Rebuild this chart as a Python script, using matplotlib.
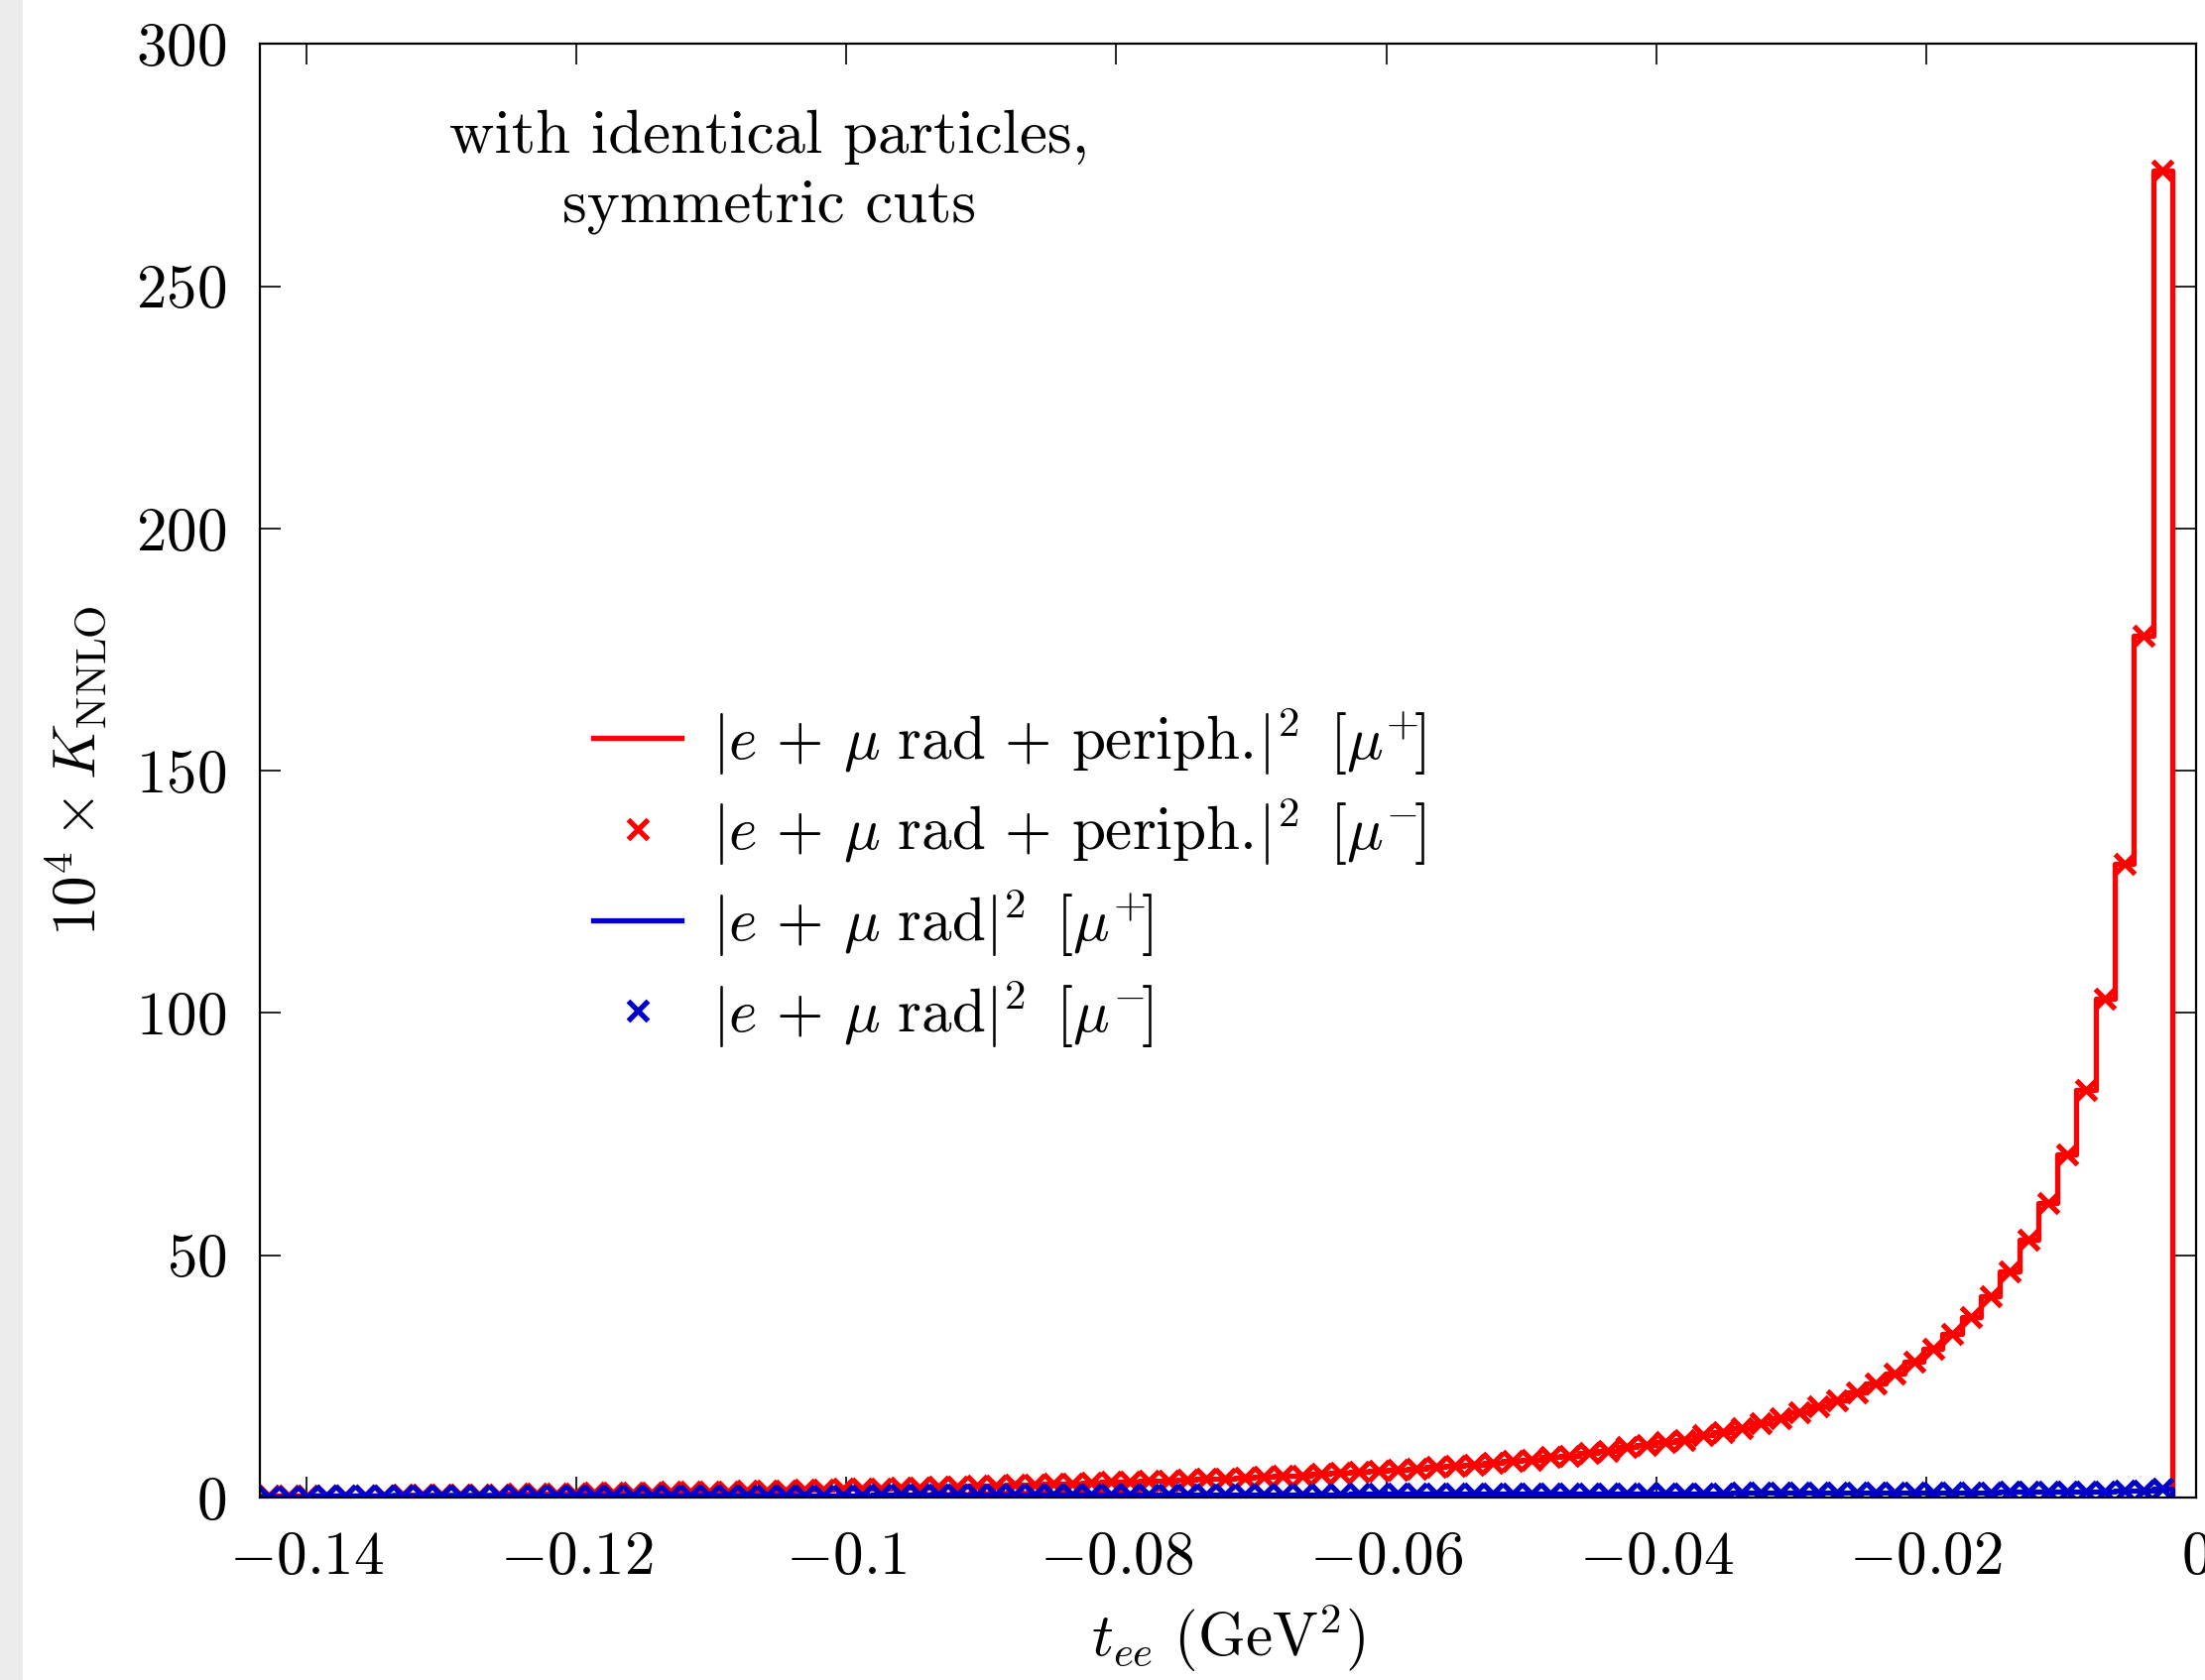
import numpy as np
import matplotlib
matplotlib.use('Agg')
import matplotlib.pyplot as plt
from matplotlib.patches import Rectangle

# t_ee histogram, 100 bins
T_MIN = -0.14347
T_MAX = -0.00178
N_BINS = 100

red_vals = [
    0.35, 0.37, 0.39, 0.42, 0.44, 0.47, 0.50, 0.53, 0.56, 0.60,
    0.63, 0.67, 0.71, 0.75, 0.79, 0.84, 0.89, 0.94, 0.99, 1.05,
    1.10, 1.15, 1.21, 1.27, 1.33, 1.40, 1.47, 1.54, 1.61, 1.69,
    1.77, 1.85, 1.94, 2.03, 2.12, 2.22, 2.32, 2.42, 2.52, 2.62,
    2.73, 2.85, 2.97, 3.09, 3.21, 3.33, 3.45, 3.58, 3.71, 3.84,
    3.97, 4.10, 4.30, 4.50, 4.60, 4.85, 5.10, 5.30, 5.50, 5.70,
    6.0, 6.3, 6.5, 6.8, 7.2, 7.5, 7.8, 8.3, 8.7, 9.2,
    9.7, 10.4, 10.8, 11.5, 11.9, 12.95, 13.6, 14.3, 15.3, 16.4,
    17.7, 18.8, 20.1, 21.8, 23.5, 25.6, 28.0, 30.7, 33.8, 37.2,
    41.6, 46.7, 53.2, 60.7, 70.9, 84.2, 103.0, 130.9, 177.9, 273.9,
]

blue_vals = [
    0.30, 0.31, 0.31, 0.32, 0.33, 0.33, 0.34, 0.35, 0.35, 0.36,
    0.37, 0.37, 0.38, 0.39, 0.39, 0.40, 0.41, 0.41, 0.42, 0.43,
    0.43, 0.44, 0.45, 0.45, 0.46, 0.47, 0.47, 0.48, 0.49, 0.50,
    0.50, 0.51, 0.52, 0.53, 0.53, 0.54, 0.55, 0.56, 0.56, 0.57,
    0.58, 0.59, 0.60, 0.60, 0.61, 0.62, 0.63, 0.64, 0.65, 0.66,
    0.66, 0.67, 0.68, 0.69, 0.70, 0.71, 0.72, 0.73, 0.74, 0.75,
    0.76, 0.77, 0.78, 0.79, 0.80, 0.81, 0.82, 0.83, 0.84, 0.85,
    0.86, 0.87, 0.88, 0.89, 0.90, 0.91, 0.92, 0.93, 0.95, 0.96,
    0.97, 0.98, 1.00, 1.01, 1.02, 1.04, 1.05, 1.07, 1.08, 1.10,
    1.12, 1.14, 1.16, 1.19, 1.22, 1.26, 1.31, 1.38, 1.49, 1.75,
]

x_ticks = [-0.14, -0.12, -0.1, -0.08, -0.06, -0.04, -0.02, 0]
x_ticklabels = ['$-0.14$', '$-0.12$', '$-0.1$', '$-0.08$', '$-0.06$', '$-0.04$', '$-0.02$', '$0$']
y_ticks = [0, 50, 100, 150, 200, 250, 300]

labels = [
    r'$|e\,+\,\mu\ \mathrm{rad}\,+\,\mathrm{periph.}\!|^2\ \,[\mu^{+}\!]$',
    r'$|e\,+\,\mu\ \mathrm{rad}\,+\,\mathrm{periph.}\!|^2\ \,[\mu^{-}\!]$',
    r'$|e\,+\,\mu\ \mathrm{rad}|^2\ \,[\mu^{+}\!]$',
    r'$|e\,+\,\mu\ \mathrm{rad}|^2\ \,[\mu^{-}\!]$',
]

RED = '#ff0000'
BLUE = '#0000c8'

plt.rcParams['font.family'] = 'serif'
plt.rcParams['font.serif'] = ['cmr10']
plt.rcParams['mathtext.fontset'] = 'cm'
plt.rcParams['axes.formatter.use_mathtext'] = True


def step_xy(edges, vals):
    xs = np.concatenate([edges, [edges[-1]]])
    ys = np.concatenate([vals, [vals[-1], 0.0]])
    return xs, ys


edges = np.linspace(T_MIN, T_MAX, N_BINS + 1)
centers = 0.5 * (edges[:-1] + edges[1:])

fig = plt.figure(figsize=(2223 / 200, 1694 / 200), dpi=200)
fig.patches.append(Rectangle((0, 0), 21 / 2223, 1, transform=fig.transFigure,
                             color='#ebebeb', zorder=-10))
ax = fig.add_axes([0.1177, 0.1086, 0.9960 - 0.1177, 0.9738 - 0.1086])

xs, ys = step_xy(edges, np.array(red_vals))
ax.plot(xs, ys, drawstyle='steps-post', color=RED, lw=1.9, label=labels[0])
ax.plot(centers, red_vals, 'x', color=RED, ms=7.5, mew=1.9, label=labels[1])
xs, ys = step_xy(edges, np.array(blue_vals))
ax.plot(xs, ys, drawstyle='steps-post', color=BLUE, lw=1.9, label=labels[2])
ax.plot(centers, blue_vals, 'x', color=BLUE, ms=7.5, mew=1.9, label=labels[3])

ax.set_xlim(T_MIN, 0)
ax.set_ylim(0, 300)
ax.set_xticks(x_ticks)
ax.set_xticklabels(x_ticklabels)
ax.set_yticks(y_ticks)
ax.set_yticklabels(['$%d$' % v for v in y_ticks])
ax.tick_params(direction='in', top=True, right=True, length=7.5, width=0.6,
               labelsize=22, pad=12)
for s in ax.spines.values():
    s.set_linewidth(0.8)

ax.set_xlabel(r'$t_{ee}\ (\mathrm{GeV}^2)$', fontsize=22, labelpad=6)
ax.set_ylabel(r'$10^4\times K_{\mathrm{NNLO}}$', fontsize=22, labelpad=10)

ax.text(0.263, 0.912, 'with identical particles,\nsymmetric cuts', transform=ax.transAxes,
        ha='center', va='center', fontsize=22.6, family='cmr10', linespacing=1.32)

ax.legend(loc='upper left', bbox_to_anchor=(0.16, 0.562), frameon=False, fontsize=22,
          handlelength=1.45, handletextpad=0.5, labelspacing=0.31, borderaxespad=0,
          markerscale=0.95)

fig.savefig('out.png', dpi=200)
